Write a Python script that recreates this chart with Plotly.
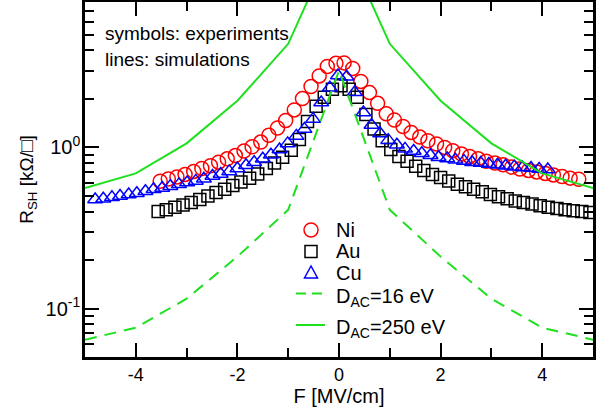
import plotly.graph_objects as go

# ---------------- data ----------------
ni_x = [-3.52,-3.36,-3.19,-3.03,-2.86,-2.70,-2.53,-2.37,-2.20,-2.04,-1.87,-1.71,-1.54,-1.38,-1.21,-1.05,
        -0.88,-0.72,-0.55,-0.39,-0.23,-0.06,0.10,0.27,0.43,0.60,0.76,0.93,1.09,1.26,1.42,1.59,1.75,1.92,
        2.08,2.24,2.41,2.57,2.74,2.90,3.07,3.23,3.40,3.56,3.73,3.89,4.06,4.22,4.39,4.55,4.72]
ni_y = [0.617,0.637,0.656,0.68,0.71,0.74,0.77,0.81,0.85,0.89,0.95,1.01,1.08,1.19,1.32,1.47,
        1.71,2.01,2.39,2.78,3.18,3.33,3.35,3.09,2.57,2.19,1.88,1.62,1.48,1.35,1.24,1.16,1.10,1.05,
        1.0,0.955,0.91,0.88,0.85,0.82,0.80,0.78,0.755,0.735,0.72,0.705,0.69,0.675,0.66,0.645,0.635]

au_x = [-3.56,-3.40,-3.23,-3.07,-2.91,-2.74,-2.58,-2.42,-2.25,-2.09,-1.93,-1.76,-1.60,-1.43,-1.27,-1.11,
        -0.94,-0.78,-0.62,-0.45,-0.29,-0.13,0.04,0.20,0.36,0.53,0.69,0.85,1.02,1.18,1.34,1.51,1.67,1.84,
        2.00,2.16,2.33,2.49,2.65,2.82,2.98,3.14,3.31,3.47,3.63,3.80,3.96,4.12,4.29,4.45,4.61,4.78,4.94]
au_y = [0.40,0.41,0.425,0.44,0.455,0.475,0.50,0.525,0.55,0.58,0.61,0.645,0.685,0.74,0.80,0.87,
        0.96,1.12,1.45,1.80,2.05,2.30,2.42,2.30,2.05,1.60,1.30,1.10,0.97,0.88,0.82,0.765,0.72,0.68,
        0.65,0.62,0.59,0.57,0.55,0.53,0.51,0.495,0.48,0.465,0.455,0.445,0.435,0.425,0.418,0.41,0.405,0.40,0.395]

cu_x = [-4.80,-4.64,-4.47,-4.31,-4.14,-3.98,-3.81,-3.65,-3.48,-3.32,-3.15,-2.99,-2.82,-2.66,-2.49,-2.33,
        -2.16,-2.00,-1.83,-1.67,-1.50,-1.34,-1.17,-1.01,-0.84,-0.68,-0.51,-0.35,-0.18,-0.02,0.15,0.31,
        0.48,0.64,0.81,0.97,1.14,1.30,1.47,1.63,1.80,1.96,2.13,2.29,2.46,2.62,2.79,2.95,3.12,3.28,3.45,
        3.61,3.78,3.94,4.11]
cu_y = [0.475,0.48,0.49,0.50,0.51,0.52,0.535,0.55,0.56,0.575,0.59,0.605,0.62,0.64,0.665,0.685,
        0.71,0.74,0.775,0.81,0.85,0.90,0.97,1.06,1.18,1.30,1.50,1.90,2.35,2.80,2.75,2.20,
        1.65,1.38,1.22,1.11,1.04,0.98,0.95,0.92,0.895,0.87,0.855,0.84,0.825,0.81,0.80,0.79,0.78,0.77,0.76,
        0.75,0.745,0.735,0.73]

sim_x = [-5, -4, -3, -2, -1, 0, 1, 2, 3, 4, 5]
sim16_y = [0.064, 0.076, 0.115, 0.21, 0.41, 3.0, 0.41, 0.21, 0.115, 0.076, 0.064]
sim250_y = [0.56, 0.69, 1.06, 1.95, 4.4, 22.0, 4.4, 1.95, 1.06, 0.69, 0.56]

legend_labels = ["Ni", "Au", "Cu", "D<sub>AC</sub>=16 eV", "D<sub>AC</sub>=250 eV"]
x_tickvals = [-4, -2, 0, 2, 4]
x_ticktext = ["-4", "-2", "0", "2", "4"]
y_tickvals = [0.1, 1]
y_ticktext = ["10<sup>-1</sup>", "10<sup>0</sup>"]
y_minor = [0.05, 0.06, 0.07, 0.08, 0.09, 0.2, 0.3, 0.4, 0.5, 0.6, 0.7, 0.8, 0.9, 2, 3, 4, 5, 6, 7, 8]

GREEN = "#1fe01f"
RED, BLACK, BLUE = "#ff0000", "#000000", "#0000ff"
FONT = "Liberation Sans, Arial, sans-serif"

W, H = 610, 409
L, R, T, B = 85, 17, 2, 52
pw, ph = W - L - R, H - T - B


def px(xp):
    return (xp - L) / pw


def py(yp):
    return 1 - (yp - T) / ph


fig = go.Figure()
fig.add_trace(go.Scatter(x=ni_x, y=ni_y, mode="markers", name="Ni", showlegend=False,
                         marker=dict(symbol="circle-open", size=14, color=RED,
                                     line=dict(width=1.5, color=RED))))
fig.add_trace(go.Scatter(x=au_x, y=au_y, mode="markers", name="Au", showlegend=False,
                         marker=dict(symbol="square-open", size=12, color=BLACK,
                                     line=dict(width=1.5, color=BLACK))))
fig.add_trace(go.Scatter(x=cu_x, y=cu_y, mode="markers", name="Cu", showlegend=False,
                         marker=dict(symbol="triangle-up-open", size=13, color=BLUE,
                                     line=dict(width=1.5, color=BLUE))))
fig.add_trace(go.Scatter(x=sim_x, y=sim16_y, mode="lines", name=legend_labels[3], showlegend=False,
                         line=dict(color=GREEN, width=2, dash="12px,8px")))
fig.add_trace(go.Scatter(x=sim_x, y=sim250_y, mode="lines", name=legend_labels[4], showlegend=False,
                         line=dict(color=GREEN, width=2)))

# ---- top-left notes ----
for txt, yp in [("symbols: experiments", 33), ("lines: simulations", 59)]:
    fig.add_annotation(x=px(103), y=py(yp), xref="paper", yref="paper", text=txt,
                       showarrow=False, xanchor="left", yanchor="middle",
                       font=dict(size=19, color="black", family=FONT))

# ---- hand-built legend (keys as shapes, labels as text) ----
kx = 311
rows = [230, 251.5, 272.5, 293.5, 325]
fig.add_shape(type="circle", xref="paper", yref="paper",
              x0=px(kx - 7), x1=px(kx + 7), y0=py(rows[0] + 7), y1=py(rows[0] - 7),
              line=dict(color=RED, width=1.5))
fig.add_shape(type="rect", xref="paper", yref="paper",
              x0=px(kx - 6), x1=px(kx + 6), y0=py(rows[1] + 6), y1=py(rows[1] - 6),
              line=dict(color=BLACK, width=1.5))
tri = "M {:.4f},{:.4f} L {:.4f},{:.4f} L {:.4f},{:.4f} Z".format(
    px(kx), py(rows[2] - 6.5), px(kx - 6.5), py(rows[2] + 5.5), px(kx + 6.5), py(rows[2] + 5.5))
fig.add_shape(type="path", xref="paper", yref="paper", path=tri, line=dict(color=BLUE, width=1.5))
fig.add_shape(type="line", xref="paper", yref="paper", x0=px(296), x1=px(325),
              y0=py(rows[3]), y1=py(rows[3]), line=dict(color=GREEN, width=2, dash="10px,6px"))
fig.add_shape(type="line", xref="paper", yref="paper", x0=px(296), x1=px(325),
              y0=py(rows[4]), y1=py(rows[4]), line=dict(color=GREEN, width=2))
label_y = [230, 251.5, 273, 297, 328]
for lab, yp in zip(legend_labels, label_y):
    fig.add_annotation(x=px(334), y=py(yp), xref="paper", yref="paper", text=lab,
                       showarrow=False, xanchor="left", yanchor="middle",
                       font=dict(size=20, color="black", family=FONT))

fig.update_layout(
    width=W, height=H,
    margin=dict(l=L, r=R, t=T, b=B, autoexpand=False),
    plot_bgcolor="white", paper_bgcolor="white",
    font=dict(family=FONT, size=18, color="black"),
    showlegend=False,
)
fig.update_xaxes(range=[-5, 5], tickmode="array", tickvals=x_tickvals, ticktext=x_ticktext,
                 ticks="inside", ticklen=14, tickwidth=2, tickcolor="black",
                 minor=dict(dtick=1, tick0=0, ticks="inside", ticklen=9, tickwidth=2, tickcolor="black"),
                 showline=True, linewidth=2.5, linecolor="black", mirror="allticks",
                 showgrid=False, zeroline=False, automargin=False,
                 tickfont=dict(size=18), title=dict(text="F [MV/cm]", font=dict(size=20), standoff=2))
fig.update_yaxes(type="log", range=[-1.30103, 0.90309], tickmode="array",
                 tickvals=y_tickvals, ticktext=y_ticktext,
                 ticks="inside", ticklen=14, tickwidth=2, tickcolor="black",
                 minor=dict(tickmode="array", tickvals=y_minor, ticks="inside", ticklen=9,
                            tickwidth=2, tickcolor="black"),
                 showline=True, linewidth=2.5, linecolor="black", mirror="allticks",
                 showgrid=False, zeroline=False, automargin=False, ticklabelstandoff=-2,
                 tickfont=dict(size=20),
                 title=dict(text="R<sub>SH</sub> [kΩ/□]", font=dict(size=19), standoff=7))

fig.write_html("out.html", config={"displayModeBar": False},
               post_script="document.body.style.margin='0';document.body.style.padding='0';")
